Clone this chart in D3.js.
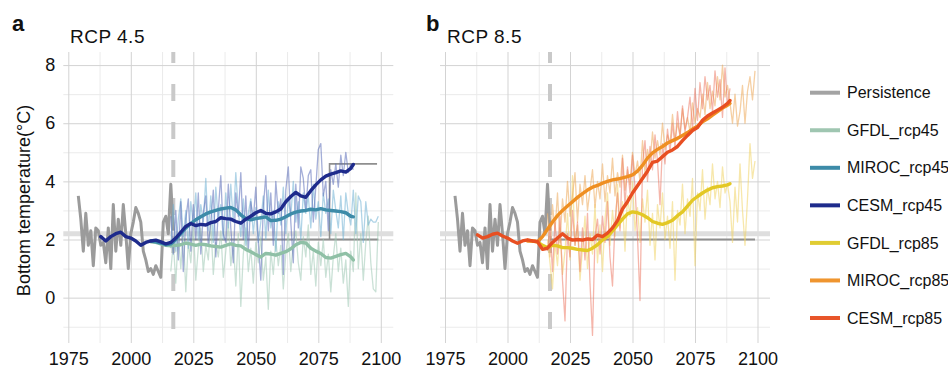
<!DOCTYPE html>
<html>
<head>
<meta charset="utf-8">
<script src="https://cdn.jsdelivr.net/npm/d3@7"></script>
<style>
  body { margin: 0; background: #fff; }
  svg { display: block; font-family: 'Liberation Sans', Arial, Helvetica, sans-serif; }
</style>
</head>
<body>
<svg class="bottom-temp" width="948" height="370"></svg>
<script>
// observed bottom temperature (persistence), 1979-2017
const obsStart = 1979;
const persistence = [
  3.5, 2.7, 1.6, 2.9, 1.8, 2.3, 1.1, 2.4, 2.3, 1.8,
  1.9, 1.2, 2.4, 1.0, 3.2, 1.6, 2.7, 1.8, 3.2, 2.2,
  1.0, 2.2, 2.6, 3.1, 2.9, 2.6, 1.6, 1.3, 0.9, 1.0,
  0.8, 1.1, 0.9, 0.7, 2.6, 2.8, 2.2, 3.9, 2.3,
];

// persistence forecast, historical mean and the forecast start year
const forecastYears = [2017, 2099];
const forecastValues = [2.0, 2.0];
const historicalMean = 2.2;
const forecastStart = 2017;

// extra persistence step shown in the RCP 4.5 panel
const stepYears = [2079.5, 2079.5, 2098.5];
const stepValues = [2.0, 4.6, 4.6];

// annual model values start here
const annualStart = 2016;

const gfdl45Annual = [
  0.9, 1.9, 0.5, 2.2, 1.0, 2.3, 0.2, 1.9, 1.2, 2.5,
  0.6, 1.7, 2.4, 0.9, 1.8, 1.3, 2.6, 0.8, 1.9, 1.4,
  2.3, 0.7, 1.6, 2.6, 1.1, 1.9, 0.4, 2.2, -0.3, 1.5,
  2.4, 0.9, 1.7, 0.5, 1.9, 1.2, 2.1, 0.6, 1.4, -0.4,
  1.6, 0.8, 2.0, 1.1, 1.8, 0.3, 1.5, 2.2, 0.9, 1.9,
  2.3, 1.2, 0.6, 2.1, 1.4, 2.5, 0.8, 1.6, 0.4, 1.9,
  1.1, 2.0, 0.7, 1.5, 0.2, 1.4, 2.2, 0.9, 1.7, 0.5,
  1.3, -0.3, 1.6, 0.9, 3.6, 1.0, 2.2, 0.6, 1.9, 2.8,
  1.2, 0.3, 0.2, 2.6,
];
const miroc45Annual = [
  1.7, 3.2, 1.6, 2.7, 3.4, 2.1, 3.0, 1.7, 3.3, 2.5,
  3.6, 2.0, 3.2, 2.6, 4.1, 2.3, 3.5, 1.9, 3.8, 2.7,
  3.2, 2.0, 3.6, 2.4, 3.9, 2.6, 4.3, 3.0, 2.1, 3.4,
  1.8, 2.9, 3.4, 2.2, 3.1, 1.9, 2.6, 3.5, 2.0, 3.7,
  2.4, 3.0, 1.6, 3.3, 2.5, 3.8, 2.2, 3.4, 2.8, 4.0,
  2.6, 3.3, 2.0, 3.6, 2.9, 3.5, 2.4, 3.9, 2.7, 3.3,
  2.1, 3.6, 2.9, 3.4, 2.2, 3.7, 3.0, 2.4, 3.5, 2.0,
  3.6, 2.9, 2.5, 3.7, 2.2, 3.5, 3.3, 1.9, 3.3, 2.5,
  2.7, 2.6, 2.6, 2.8,
];
const cesm45Annual = [
  2.8, 1.5, 3.0, 1.3, 3.3, 0.9, 2.7, 3.4, 1.6, 3.2,
  2.0, 3.6, 1.5, 2.9, 3.5, 1.8, 2.6, 3.7, 1.4, 3.0,
  4.2, 2.2, 1.9, 3.9, 2.4, 1.2, 3.6, 2.8, 4.3, 2.0,
  3.5, 1.6, 3.3, 2.7, 3.8, 1.9, 0.6, 3.1, 4.2, 2.3,
  3.6, 1.8, 4.0, 2.9, 3.4, 0.8, 3.7, 4.5, 2.6, 1.2,
  3.9, 2.4, 4.5, 4.1, 3.0, 4.2, 4.4, 2.6, 3.8, 5.1,
  5.3, 3.5, 4.0, 2.3, 4.4, 3.9, 4.6, 3.8, 4.9, 4.2,
  5.0, 4.3, 4.6, 4.4,
];
const gfdl85Annual = [
  2.0, 1.2, 0.3, 1.9, 1.1, 2.4, 0.8, 1.6, 2.9, 1.3,
  4.2, 1.8, 2.5, 0.6, 1.7, 2.8, 1.0, 2.2, 1.5, 3.2,
  1.2, 2.5, 0.9, 2.7, 3.6, 1.8, 3.0, 2.1, 3.9, 2.4,
  3.3, 1.6, 3.5, 2.8, 4.0, 2.3, 3.1, 1.9, 3.4, 2.6,
  3.7, 1.8, 2.9, 1.3, 3.2, 2.4, 3.6, 2.0, 2.8, 1.7,
  3.3, 0.6, 3.0, 2.5, 3.9, 2.2, 3.4, 2.8, 4.1, 1.1,
  3.6, 3.0, 4.4, 2.7, 3.8, 3.2, 4.6, 3.4, 4.0, 3.1,
  4.5, 3.6, 3.9, 3.3, 1.9, 3.8, 2.6, 4.6, 3.0, 1.8,
  3.4, 5.3, 4.1, 4.7,
];
const miroc85Annual = [
  2.9, 1.4, 3.2, 2.3, 3.6, 1.9, 3.4, 2.6, 4.0, 2.8,
  3.5, 4.3, 2.6, 3.9, 3.2, 4.2, 3.0, 3.7, 4.4, 3.1,
  4.0, 3.4, 4.6, 3.3, 4.2, 3.6, 4.8, 3.5, 4.3, 3.8,
  4.9, 3.7, 4.4, 3.9, 5.0, 4.2, 4.7, 4.0, 5.4, 4.3,
  5.1, 4.6, 5.7, 4.8, 5.4, 4.9, 6.0, 5.1, 5.6, 5.3,
  6.3, 5.4, 6.0, 5.6, 6.5, 5.8, 6.2, 5.7, 6.7, 6.0,
  6.5, 6.2, 7.0, 6.3, 7.4, 6.5, 7.1, 6.6, 7.6, 6.8,
  8.0, 6.9, 7.3, 6.7, 6.0, 7.0, 5.9, 6.4, 7.3, 6.0,
  7.1, 7.6, 6.8, 7.8,
];
const cesm85Annual = [
  1.6, 2.4, 0.9, 2.6, 1.5, 2.8, 0.6, -0.8, 2.2, 1.4,
  3.0, 1.8, 2.6, 0.9, 2.4, 1.3, 2.9, 0.5, -1.3, 2.1,
  2.7, 1.5, 2.8, 1.9, 3.3, 1.4, 0.4, 2.6, 3.6, 2.3,
  4.8, 3.2, 4.5, 3.6, 4.9, 3.8, 2.1, -0.1, 4.6, 5.4,
  4.0, 5.2, 4.4, 5.6, 4.7, 3.2, 5.3, 4.6, 5.8, 5.0,
  6.0, 5.2, 6.4, 5.5, 6.6, 5.7, 6.2, 6.9, 5.8, 7.2,
  6.1, 7.4, 6.5, 7.6, 6.8, 7.3, 6.4, 7.8, 6.9, 7.5,
  6.2, 7.9, 6.6, 7.2,
];

// 10-year running means (thick lines), read at the years listed
const cesmSmoothYears = [
  1988, 1990, 1992, 1994, 1996, 1998, 2000, 2002, 2004, 2006, 2008, 2010, 2012, 2014,
  2016, 2018, 2020, 2022, 2024, 2026, 2028, 2030, 2032, 2034, 2036, 2038, 2040, 2042,
  2044, 2046, 2048, 2050, 2052, 2054, 2056, 2058, 2060, 2062, 2064, 2066, 2068, 2070,
  2072, 2074, 2076, 2078, 2080, 2082, 2084, 2086, 2088, 2089,
];
const cesm45Smooth = [
  2.10, 1.95, 2.10, 2.20, 2.25, 2.10, 2.05, 1.95, 1.80, 1.90, 1.95, 1.98, 1.92, 1.85,
  1.90, 2.05, 2.25, 2.45, 2.55, 2.48, 2.52, 2.50, 2.58, 2.62, 2.75, 2.72, 2.70, 2.62,
  2.56, 2.70, 2.80, 2.92, 3.00, 2.90, 2.88, 2.95, 3.05, 3.30, 3.48, 3.62, 3.50, 3.45,
  3.68, 3.88, 4.05, 4.18, 4.25, 4.30, 4.36, 4.32, 4.45, 4.58,
];
const modelSmoothYears = [
  2008, 2010, 2012, 2014, 2016, 2018, 2020, 2022, 2024, 2026, 2028, 2030, 2032, 2034,
  2036, 2038, 2040, 2042, 2044, 2046, 2048, 2050, 2052, 2054, 2056, 2058, 2060, 2062,
  2064, 2066, 2068, 2070, 2072, 2074, 2076, 2078, 2080, 2082, 2084, 2086, 2088, 2089,
];
const miroc45Smooth = [
  1.95, 1.92, 1.88, 1.82, 1.85, 2.00, 2.20, 2.40, 2.55, 2.68, 2.78, 2.88, 2.95, 3.00,
  3.05, 3.08, 3.10, 3.02, 2.85, 2.72, 2.68, 2.72, 2.75, 2.78, 2.65, 2.66, 2.70, 2.78,
  2.88, 2.94, 2.98, 3.00, 3.04, 3.02, 3.06, 3.02, 3.00, 2.98, 2.96, 2.92, 2.80, 2.78,
];
const gfdl45Smooth = [
  1.92, 1.90, 1.85, 1.80, 1.78, 1.80, 1.82, 1.88, 1.84, 1.80, 1.84, 1.82, 1.78, 1.76,
  1.74, 1.80, 1.85, 1.80, 1.78, 1.66, 1.58, 1.48, 1.40, 1.52, 1.50, 1.46, 1.52, 1.58,
  1.68, 1.82, 1.90, 1.88, 1.70, 1.60, 1.52, 1.38, 1.36, 1.42, 1.48, 1.52, 1.40, 1.30,
];
const cesm85Smooth = [
  2.16, 2.05, 2.10, 2.18, 2.22, 2.12, 2.05, 1.95, 1.87, 1.95, 1.99, 1.95, 1.93, 1.66,
  1.70, 1.90, 2.05, 2.20, 2.05, 1.98, 2.00, 1.98, 2.02, 2.00, 2.15, 2.10, 2.22, 2.40,
  2.65, 3.05, 3.30, 3.60, 3.85, 4.10, 4.35, 4.65, 4.70, 4.85, 5.00, 5.08, 5.20, 5.40,
  5.58, 5.75, 5.85, 6.10, 6.25, 6.35, 6.45, 6.55, 6.68, 6.78,
];
const miroc85Smooth = [
  1.95, 1.95, 1.92, 2.10, 2.35, 2.60, 2.82, 3.00, 3.15, 3.30, 3.45, 3.58, 3.70, 3.80,
  3.86, 3.94, 4.00, 4.05, 4.08, 4.12, 4.16, 4.22, 4.35, 4.55, 4.80, 4.98, 5.10, 5.20,
  5.32, 5.40, 5.48, 5.58, 5.68, 5.80, 5.90, 6.05, 6.15, 6.28, 6.40, 6.52, 6.62, 6.68,
];
const gfdl85Smooth = [
  1.97, 1.95, 1.92, 1.80, 1.72, 1.80, 1.78, 1.72, 1.72, 1.70, 1.66, 1.64, 1.62, 1.70,
  1.82, 1.98, 2.10, 2.30, 2.50, 2.70, 2.88, 2.95, 2.92, 2.85, 2.75, 2.62, 2.56, 2.52,
  2.58, 2.66, 2.82, 2.95, 3.15, 3.35, 3.48, 3.60, 3.70, 3.78, 3.82, 3.84, 3.88, 3.92,
];

// axes and legend
const xTicks = [1975, 2000, 2025, 2050, 2075, 2100];
const xMinorTicks = [1987.5, 2012.5, 2037.5, 2062.5, 2087.5];
const yTicks = [0, 2, 4, 6, 8];
const yMinorTicks = [-1, 1, 3, 5, 7];
const legendNames = ['Persistence', 'GFDL_rcp45', 'MIROC_rcp45', 'CESM_rcp45', 'GFDL_rcp85', 'MIROC_rcp85', 'CESM_rcp85'];
const legendColors = ['#a3a3a3', '#9fc6b1', '#3d8ba8', '#1e2b8c', '#e0cc32', '#ef952f', '#e8552a'];

const colors = {
  persistence: '#9b9b9b',
  forecast: '#8f8f8f',
  band: '#dedede',
  dashed: '#c9c9c9',
  gfdl45: '#8fc0a6',
  miroc45: '#3d8ba8',
  cesm45: '#1e2b8c',
  gfdl45Thin: '#9ec8b4',
  miroc45Thin: '#6fb0d4',
  cesm45Thin: '#5a6cb8',
  gfdl85: '#e3c825',
  miroc85: '#ef8f22',
  cesm85: '#e84f22',
  gfdl85Thin: '#f0d466',
  miroc85Thin: '#eda858',
  cesm85Thin: '#ec7a66',
};

const annual = (values, start) => values.map((v, i) => ({ year: start + i, value: v }));
const paired = (years, values) => years.map((yr, i) => ({ year: yr, value: values[i] }));

const svg = d3.select('.bottom-temp');
const fontAxis = 18;

const y = d3.scaleLinear().domain([-1.56, 8.45]).range([343, 52]);
const xDomain = [1973, 2105];

// gridlines through an axis with long ticks
function grid(g, axis, transform, color) {
  g.append('g')
    .attr('transform', transform)
    .call(axis.tickFormat(''))
    .call(a => a.select('.domain').remove())
    .call(a => a.selectAll('line').attr('stroke', color));
}

function drawPanel(opts) {
  const x = d3.scaleLinear().domain(xDomain).range(opts.range);
  const [x0, x1] = opts.range;
  const [yBottom, yTop] = y.range();
  const g = svg.append('g');

  // minor grid, then major grid
  grid(g, d3.axisBottom(x).tickValues(xMinorTicks).tickSize(yTop - yBottom), `translate(0, ${yBottom})`, '#ebebeb');
  grid(g, d3.axisLeft(y).tickValues(yMinorTicks).tickSize(x0 - x1), `translate(${x0}, 0)`, '#ebebeb');
  grid(g, d3.axisBottom(x).tickValues(xTicks).tickSize(yTop - yBottom), `translate(0, ${yBottom})`, '#d3d3d3');
  grid(g, d3.axisLeft(y).tickValues(yTicks).tickSize(x0 - x1), `translate(${x0}, 0)`, '#d3d3d3');

  // x tick labels
  g.append('g')
    .attr('transform', `translate(0, ${yBottom})`)
    .call(d3.axisBottom(x).tickValues(xTicks).tickSize(0).tickPadding(9).tickFormat(d3.format('d')))
    .call(a => a.select('.domain').remove())
    .call(a => a.selectAll('text')
      .attr('fill', '#111')
      .style('font-size', `${fontAxis}px`)
      .style('font-family', 'Liberation Sans, Arial, sans-serif'));

  if (opts.yLabels) {
    g.append('g')
      .attr('transform', `translate(${x0}, 0)`)
      .call(d3.axisLeft(y).tickValues(yTicks).tickSize(0).tickPadding(8).tickFormat(d3.format('d')))
      .call(a => a.select('.domain').remove())
      .call(a => a.selectAll('text')
        .attr('fill', '#111')
        .style('font-size', `${fontAxis}px`)
        .style('font-family', 'Liberation Sans, Arial, sans-serif'));
  }

  const line = d3.line()
    .x(d => x(d.year))
    .y(d => y(d.value));

  // historical mean band
  g.append('path')
    .datum(paired(xDomain, [historicalMean, historicalMean]))
    .attr('d', line)
    .attr('fill', 'none')
    .attr('stroke', colors.band)
    .attr('stroke-width', 5);

  // forecast start
  g.append('path')
    .datum(paired([forecastStart, forecastStart], y.domain()))
    .attr('d', line)
    .attr('fill', 'none')
    .attr('stroke', colors.dashed)
    .attr('stroke-width', 4)
    .attr('stroke-dasharray', '17,21')
    .attr('stroke-dashoffset', 24);

  // observed persistence
  g.append('path')
    .datum(annual(persistence, obsStart))
    .attr('d', line)
    .attr('fill', 'none')
    .attr('stroke', colors.persistence)
    .attr('stroke-width', 3)
    .attr('stroke-linejoin', 'round');

  g.append('path')
    .datum(paired(forecastYears, forecastValues))
    .attr('d', line)
    .attr('fill', 'none')
    .attr('stroke', colors.forecast)
    .attr('stroke-width', 2);

  if (opts.step) {
    g.append('path')
      .datum(paired(stepYears, stepValues))
      .attr('d', line)
      .attr('fill', 'none')
      .attr('stroke', colors.forecast)
      .attr('stroke-width', 1.6);
  }

  // annual model values
  opts.thin.forEach((s) => {
    g.append('path')
      .datum(annual(s.values, annualStart))
      .attr('d', line)
      .attr('fill', 'none')
      .attr('stroke', s.color)
      .attr('stroke-opacity', 0.55)
      .attr('stroke-width', 1.3)
      .attr('stroke-linejoin', 'round');
  });

  // running means
  opts.thick.forEach((s) => {
    g.append('path')
      .datum(paired(s.years, s.values))
      .attr('d', line)
      .attr('fill', 'none')
      .attr('stroke', s.color)
      .attr('stroke-width', 3.4)
      .attr('stroke-linejoin', 'round')
      .attr('stroke-linecap', 'round');
  });

  // panel letter and title
  svg.append('text')
    .attr('x', opts.letterX)
    .attr('y', 31)
    .attr('font-size', 22)
    .attr('font-weight', 'bold')
    .attr('fill', '#111')
    .text(opts.letter);

  svg.append('text')
    .attr('x', opts.titleX)
    .attr('y', 43)
    .attr('font-size', 19)
    .attr('letter-spacing', 0.5)
    .attr('fill', '#111')
    .text(opts.title);
}

drawPanel({
  range: [63.3, 393.3],
  yLabels: true,
  step: true,
  letter: 'a',
  letterX: 12,
  title: 'RCP 4.5',
  titleX: 70,
  thin: [
    { values: gfdl45Annual, color: colors.gfdl45Thin },
    { values: miroc45Annual, color: colors.miroc45Thin },
    { values: cesm45Annual, color: colors.cesm45Thin },
  ],
  thick: [
    { years: modelSmoothYears, values: gfdl45Smooth, color: colors.gfdl45 },
    { years: modelSmoothYears, values: miroc45Smooth, color: colors.miroc45 },
    { years: cesmSmoothYears, values: cesm45Smooth, color: colors.cesm45 },
  ],
});

drawPanel({
  range: [440, 770],
  yLabels: false,
  step: false,
  letter: 'b',
  letterX: 426,
  title: 'RCP 8.5',
  titleX: 447,
  thin: [
    { values: gfdl85Annual, color: colors.gfdl85Thin },
    { values: miroc85Annual, color: colors.miroc85Thin },
    { values: cesm85Annual, color: colors.cesm85Thin },
  ],
  thick: [
    { years: modelSmoothYears, values: gfdl85Smooth, color: colors.gfdl85 },
    { years: modelSmoothYears, values: miroc85Smooth, color: colors.miroc85 },
    { years: cesmSmoothYears, values: cesm85Smooth, color: colors.cesm85 },
  ],
});

// y axis title
svg.append('text')
  .attr('transform', `translate(30, ${(y.range()[0] + y.range()[1]) / 2 + 3}) rotate(-90)`)
  .attr('text-anchor', 'middle')
  .attr('font-size', 18)
  .attr('fill', '#111')
  .text('Bottom temperature(°C)');

// legend
const legendY = d3.scalePoint().domain(legendNames).range([92.7, 318]);
const legend = svg.append('g').attr('class', 'legend');

legend.selectAll('line')
  .data(legendNames)
  .join('line')
  .attr('x1', 810)
  .attr('x2', 840)
  .attr('y1', d => legendY(d))
  .attr('y2', d => legendY(d))
  .attr('stroke', (d, i) => legendColors[i])
  .attr('stroke-width', 4);

legend.selectAll('text')
  .data(legendNames)
  .join('text')
  .attr('x', 847)
  .attr('y', d => legendY(d))
  .attr('dy', '0.35em')
  .attr('font-size', 16)
  .attr('fill', '#111')
  .text(d => d);
</script>
</body>
</html>
